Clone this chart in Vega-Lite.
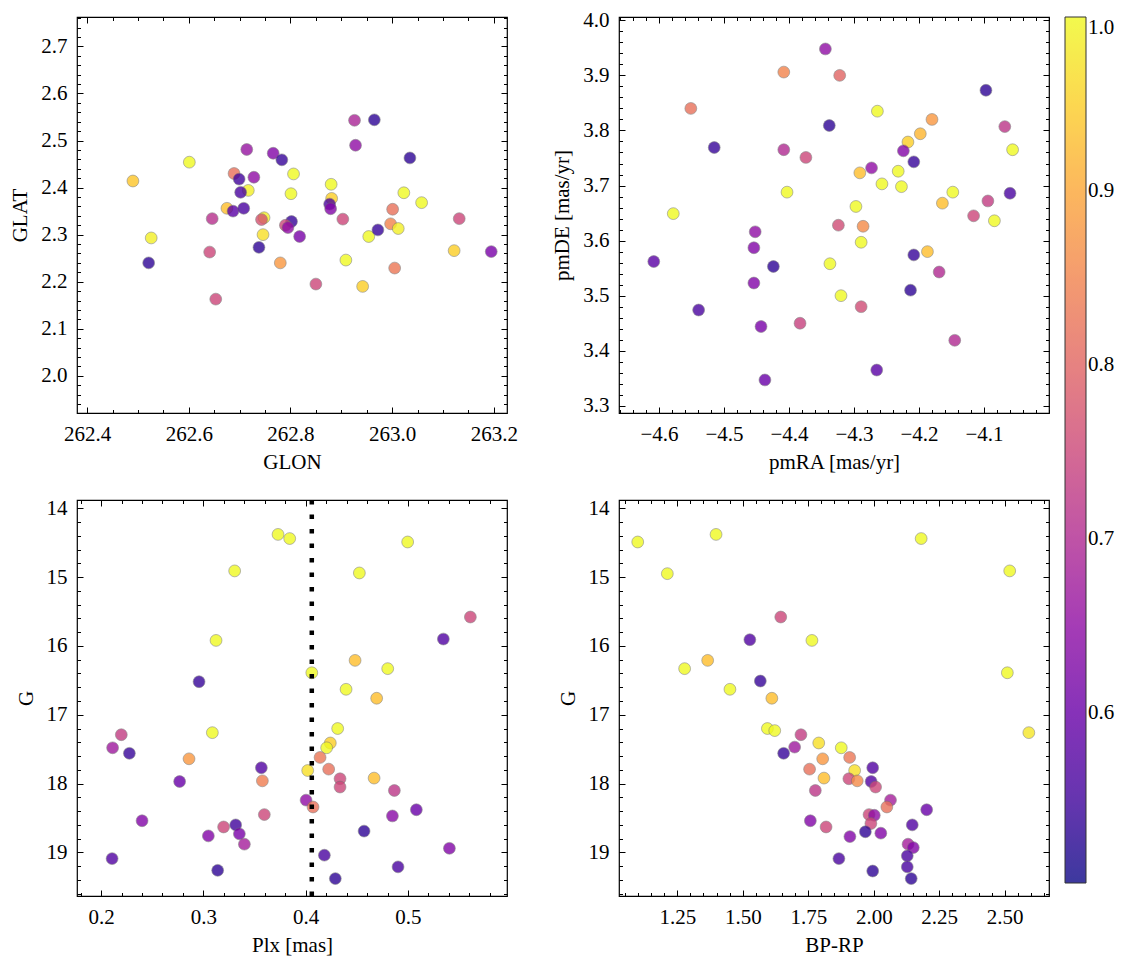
{
"$schema": "https://vega.github.io/schema/vega-lite/v6.json",
"background": "white",
"padding": {"left": 9, "top": 8, "right": 5, "bottom": 5},
"bounds": "flush",
"columns": 2,
"spacing": {"row": 87, "column": 112},
"datasets": {
"pos": [
{"GLON":262.490,"GLAT":2.414,"p":0.94},{"GLON":262.601,"GLAT":2.454,"p":1.0},{"GLON":262.526,"GLAT":2.293,"p":0.99},{"GLON":262.521,"GLAT":2.240,"p":0.53},
{"GLON":262.714,"GLAT":2.481,"p":0.66},{"GLON":262.689,"GLAT":2.430,"p":0.82},{"GLON":262.699,"GLAT":2.418,"p":0.55},{"GLON":262.728,"GLAT":2.422,"p":0.65},
{"GLON":262.717,"GLAT":2.394,"p":0.99},{"GLON":262.702,"GLAT":2.390,"p":0.56},{"GLON":262.675,"GLAT":2.356,"p":0.93},{"GLON":262.687,"GLAT":2.350,"p":0.58},
{"GLON":262.708,"GLAT":2.356,"p":0.56},{"GLON":262.646,"GLAT":2.334,"p":0.71},{"GLON":262.748,"GLAT":2.336,"p":0.99},{"GLON":262.743,"GLAT":2.332,"p":0.77},
{"GLON":262.746,"GLAT":2.300,"p":0.97},{"GLON":262.641,"GLAT":2.263,"p":0.75},{"GLON":262.738,"GLAT":2.273,"p":0.53},{"GLON":262.780,"GLAT":2.240,"p":0.88},
{"GLON":262.653,"GLAT":2.163,"p":0.75},{"GLON":262.766,"GLAT":2.473,"p":0.63},{"GLON":262.783,"GLAT":2.459,"p":0.54},{"GLON":262.806,"GLAT":2.429,"p":1.0},
{"GLON":262.801,"GLAT":2.387,"p":1.0},{"GLON":262.802,"GLAT":2.328,"p":0.54},{"GLON":262.790,"GLAT":2.320,"p":0.75},{"GLON":262.795,"GLAT":2.315,"p":0.65},
{"GLON":262.818,"GLAT":2.296,"p":0.62},{"GLON":262.880,"GLAT":2.407,"p":1.0},{"GLON":262.881,"GLAT":2.377,"p":0.95},{"GLON":262.877,"GLAT":2.365,"p":0.56},
{"GLON":262.879,"GLAT":2.355,"p":0.63},{"GLON":262.926,"GLAT":2.543,"p":0.69},{"GLON":262.965,"GLAT":2.544,"p":0.53},{"GLON":262.928,"GLAT":2.490,"p":0.65},
{"GLON":263.035,"GLAT":2.463,"p":0.53},{"GLON":262.903,"GLAT":2.333,"p":0.75},{"GLON":262.909,"GLAT":2.246,"p":1.0},{"GLON":262.850,"GLAT":2.195,"p":0.75},
{"GLON":262.942,"GLAT":2.190,"p":0.95},{"GLON":262.954,"GLAT":2.296,"p":1.0},{"GLON":262.972,"GLAT":2.310,"p":0.54},{"GLON":263.001,"GLAT":2.354,"p":0.82},
{"GLON":262.997,"GLAT":2.323,"p":0.85},{"GLON":263.012,"GLAT":2.313,"p":0.99},{"GLON":263.023,"GLAT":2.389,"p":1.0},{"GLON":263.058,"GLAT":2.368,"p":1.0},
{"GLON":263.005,"GLAT":2.229,"p":0.83},{"GLON":263.132,"GLAT":2.334,"p":0.75},{"GLON":263.122,"GLAT":2.266,"p":0.95},{"GLON":263.195,"GLAT":2.264,"p":0.62}
],
"pm": [
{"pmRA":-4.408,"pmDE":3.906,"p":0.85},{"pmRA":-4.551,"pmDE":3.840,"p":0.82},{"pmRA":-4.515,"pmDE":3.769,"p":0.54},{"pmRA":-4.408,"pmDE":3.765,"p":0.70},
{"pmRA":-4.374,"pmDE":3.751,"p":0.75},{"pmRA":-4.403,"pmDE":3.688,"p":1.0},{"pmRA":-4.578,"pmDE":3.649,"p":1.0},{"pmRA":-4.452,"pmDE":3.616,"p":0.65},
{"pmRA":-4.454,"pmDE":3.587,"p":0.63},{"pmRA":-4.608,"pmDE":3.562,"p":0.58},{"pmRA":-4.424,"pmDE":3.553,"p":0.53},{"pmRA":-4.454,"pmDE":3.523,"p":0.63},
{"pmRA":-4.539,"pmDE":3.474,"p":0.56},{"pmRA":-4.443,"pmDE":3.444,"p":0.62},{"pmRA":-4.383,"pmDE":3.450,"p":0.74},{"pmRA":-4.437,"pmDE":3.347,"p":0.60},
{"pmRA":-4.344,"pmDE":3.948,"p":0.65},{"pmRA":-4.322,"pmDE":3.900,"p":0.80},{"pmRA":-4.338,"pmDE":3.809,"p":0.53},{"pmRA":-4.264,"pmDE":3.835,"p":1.0},
{"pmRA":-4.097,"pmDE":3.873,"p":0.53},{"pmRA":-4.180,"pmDE":3.820,"p":0.88},{"pmRA":-4.198,"pmDE":3.794,"p":0.92},{"pmRA":-4.217,"pmDE":3.779,"p":0.95},
{"pmRA":-4.224,"pmDE":3.763,"p":0.63},{"pmRA":-4.208,"pmDE":3.743,"p":0.54},{"pmRA":-4.068,"pmDE":3.807,"p":0.72},{"pmRA":-4.056,"pmDE":3.765,"p":1.0},
{"pmRA":-4.273,"pmDE":3.732,"p":0.65},{"pmRA":-4.291,"pmDE":3.723,"p":0.93},{"pmRA":-4.232,"pmDE":3.726,"p":1.0},{"pmRA":-4.257,"pmDE":3.703,"p":1.0},
{"pmRA":-4.227,"pmDE":3.698,"p":1.0},{"pmRA":-4.148,"pmDE":3.688,"p":1.0},{"pmRA":-4.164,"pmDE":3.668,"p":0.93},{"pmRA":-4.060,"pmDE":3.686,"p":0.56},
{"pmRA":-4.094,"pmDE":3.672,"p":0.73},{"pmRA":-4.116,"pmDE":3.645,"p":0.75},{"pmRA":-4.084,"pmDE":3.636,"p":1.0},{"pmRA":-4.297,"pmDE":3.662,"p":1.0},
{"pmRA":-4.324,"pmDE":3.628,"p":0.76},{"pmRA":-4.286,"pmDE":3.626,"p":0.86},{"pmRA":-4.289,"pmDE":3.597,"p":1.0},{"pmRA":-4.208,"pmDE":3.574,"p":0.54},
{"pmRA":-4.187,"pmDE":3.580,"p":0.93},{"pmRA":-4.337,"pmDE":3.558,"p":1.0},{"pmRA":-4.169,"pmDE":3.543,"p":0.70},{"pmRA":-4.213,"pmDE":3.510,"p":0.53},
{"pmRA":-4.320,"pmDE":3.500,"p":1.0},{"pmRA":-4.289,"pmDE":3.480,"p":0.76},{"pmRA":-4.145,"pmDE":3.419,"p":0.70},{"pmRA":-4.265,"pmDE":3.365,"p":0.58}
],
"plx": [
{"Plx":0.3730,"G":14.38,"p":1.0},{"Plx":0.3306,"G":14.91,"p":1.0},{"Plx":0.3124,"G":15.92,"p":1.0},{"Plx":0.2958,"G":16.52,"p":0.54},
{"Plx":0.3088,"G":17.26,"p":1.0},{"Plx":0.2198,"G":17.29,"p":0.73},{"Plx":0.2113,"G":17.48,"p":0.67},{"Plx":0.2277,"G":17.56,"p":0.54},
{"Plx":0.2860,"G":17.64,"p":0.88},{"Plx":0.2768,"G":17.97,"p":0.60},{"Plx":0.3567,"G":17.77,"p":0.57},{"Plx":0.3577,"G":17.96,"p":0.84},
{"Plx":0.2401,"G":18.54,"p":0.63},{"Plx":0.3596,"G":18.45,"p":0.75},{"Plx":0.3198,"G":18.63,"p":0.75},{"Plx":0.3316,"G":18.60,"p":0.55},
{"Plx":0.3049,"G":18.76,"p":0.63},{"Plx":0.3352,"G":18.73,"p":0.62},{"Plx":0.3401,"G":18.88,"p":0.68},{"Plx":0.2108,"G":19.09,"p":0.57},
{"Plx":0.3140,"G":19.26,"p":0.53},{"Plx":0.3844,"G":14.44,"p":1.0},{"Plx":0.4997,"G":14.49,"p":1.0},{"Plx":0.4525,"G":14.94,"p":1.0},
{"Plx":0.5610,"G":15.58,"p":0.75},{"Plx":0.5346,"G":15.90,"p":0.57},{"Plx":0.4483,"G":16.21,"p":0.93},{"Plx":0.4802,"G":16.33,"p":1.0},
{"Plx":0.4060,"G":16.39,"p":1.0},{"Plx":0.4395,"G":16.63,"p":1.0},{"Plx":0.4694,"G":16.76,"p":0.93},{"Plx":0.4313,"G":17.20,"p":1.0},
{"Plx":0.4241,"G":17.41,"p":0.95},{"Plx":0.4205,"G":17.48,"p":1.0},{"Plx":0.4141,"G":17.62,"p":0.83},{"Plx":0.4225,"G":17.79,"p":0.82},
{"Plx":0.4020,"G":17.81,"p":0.97},{"Plx":0.4336,"G":17.93,"p":0.75},{"Plx":0.4336,"G":18.05,"p":0.75},{"Plx":0.4669,"G":17.92,"p":0.93},
{"Plx":0.4867,"G":18.10,"p":0.72},{"Plx":0.4004,"G":18.24,"p":0.65},{"Plx":0.4072,"G":18.34,"p":0.82},{"Plx":0.5082,"G":18.38,"p":0.60},
{"Plx":0.4848,"G":18.47,"p":0.64},{"Plx":0.4571,"G":18.69,"p":0.53},{"Plx":0.5405,"G":18.94,"p":0.63},{"Plx":0.4183,"G":19.04,"p":0.56},
{"Plx":0.4903,"G":19.21,"p":0.56},{"Plx":0.4290,"G":19.38,"p":0.53}
],
"cmd": [
{"BP_RP":1.099,"G":14.49,"p":1.0},{"BP_RP":1.398,"G":14.38,"p":1.0},{"BP_RP":1.212,"G":14.95,"p":1.0},{"BP_RP":1.645,"G":15.58,"p":0.75},
{"BP_RP":1.527,"G":15.91,"p":0.57},{"BP_RP":1.764,"G":15.92,"p":1.0},{"BP_RP":1.366,"G":16.21,"p":0.93},{"BP_RP":1.278,"G":16.33,"p":1.0},
{"BP_RP":1.567,"G":16.51,"p":0.54},{"BP_RP":1.451,"G":16.63,"p":1.0},{"BP_RP":1.611,"G":16.76,"p":0.93},{"BP_RP":1.594,"G":17.20,"p":1.0},
{"BP_RP":1.622,"G":17.23,"p":1.0},{"BP_RP":1.722,"G":17.29,"p":0.73},{"BP_RP":1.698,"G":17.47,"p":0.67},{"BP_RP":1.656,"G":17.56,"p":0.54},
{"BP_RP":1.790,"G":17.41,"p":0.97},{"BP_RP":1.755,"G":17.79,"p":0.82},{"BP_RP":1.777,"G":18.10,"p":0.72},{"BP_RP":1.758,"G":18.54,"p":0.63},
{"BP_RP":2.181,"G":14.44,"p":1.0},{"BP_RP":2.519,"G":14.91,"p":1.0},{"BP_RP":2.510,"G":16.39,"p":1.0},{"BP_RP":2.592,"G":17.26,"p":0.98},
{"BP_RP":1.805,"G":17.64,"p":0.88},{"BP_RP":1.876,"G":17.48,"p":1.0},{"BP_RP":1.908,"G":17.62,"p":0.83},{"BP_RP":1.927,"G":17.81,"p":0.97},
{"BP_RP":1.996,"G":17.77,"p":0.57},{"BP_RP":1.810,"G":17.92,"p":0.93},{"BP_RP":1.905,"G":17.93,"p":0.75},{"BP_RP":1.937,"G":17.96,"p":0.86},
{"BP_RP":1.990,"G":17.97,"p":0.57},{"BP_RP":2.007,"G":18.05,"p":0.75},{"BP_RP":2.064,"G":18.24,"p":0.68},{"BP_RP":2.050,"G":18.34,"p":0.82},
{"BP_RP":2.202,"G":18.38,"p":0.60},{"BP_RP":1.982,"G":18.45,"p":0.75},{"BP_RP":2.002,"G":18.46,"p":0.65},{"BP_RP":1.989,"G":18.58,"p":0.75},
{"BP_RP":1.818,"G":18.63,"p":0.75},{"BP_RP":2.147,"G":18.60,"p":0.57},{"BP_RP":1.968,"G":18.70,"p":0.53},{"BP_RP":2.027,"G":18.72,"p":0.63},
{"BP_RP":1.909,"G":18.77,"p":0.63},{"BP_RP":2.131,"G":18.88,"p":0.68},{"BP_RP":2.151,"G":18.93,"p":0.63},{"BP_RP":2.128,"G":19.05,"p":0.56},
{"BP_RP":1.867,"G":19.09,"p":0.56},{"BP_RP":2.128,"G":19.21,"p":0.56},{"BP_RP":1.996,"G":19.27,"p":0.53},{"BP_RP":2.143,"G":19.38,"p":0.53}
],
"cut": [{"Plx_cut":0.406}]
},
"concat": [
{
"width":430,"height":396,"data":{"name":"pos"},
"layer":[
{"mark":{"type":"circle","size":140,"opacity":0.8,"stroke":"#6e6e6e","strokeWidth":0.6},
"encoding":{
"x":{"field":"GLON","type":"quantitative","scale":{"domain":[262.38,263.226],"nice":false,"zero":false},"axis":{"orient":"bottom","values":[262.4,262.6,262.8,263.0,263.2],"format":".1f","ticks":false,"title":"GLON"}},
"y":{"field":"GLAT","type":"quantitative","scale":{"domain":[1.921,2.7625],"nice":false,"zero":false},"axis":{"orient":"left","values":[2.0,2.1,2.2,2.3,2.4,2.5,2.6,2.7],"format":".1f","ticks":false,"title":"GLAT"}},
"color":{"field":"p","type":"quantitative","scale":{"scheme":"plasma","domain":[0.502,1.0]},"legend":{"title":null,"values":[0.6,0.7,0.8,0.9,1.0],"format":".1f","gradientLength":866,"encode":{"gradient":{"update":{"opacity":{"value":0.8}}},"labels":{"enter":{"baseline":{"value":"middle"}},"update":{"baseline":{"signal":"'middle'"}}}}}}}},
{"mark":{"type":"point","opacity":0},"encoding":{
"x":{"field":"GLON","type":"quantitative","scale":{"domain":[262.38,263.226],"nice":false,"zero":false},"axis":{"orient":"bottom","values":[262.4,262.6,262.8,263.0,263.2],"labels":false,"title":null,"tickSize":-6}},
"y":{"field":"GLAT","type":"quantitative","scale":{"domain":[1.921,2.7625],"nice":false,"zero":false},"axis":{"orient":"left","values":[2.0,2.1,2.2,2.3,2.4,2.5,2.6,2.7],"labels":false,"title":null,"tickSize":-6}}}},
{"mark":{"type":"point","opacity":0},"encoding":{
"x":{"field":"GLON","type":"quantitative","scale":{"domain":[262.38,263.226],"nice":false,"zero":false},"axis":{"orient":"bottom","tickCount":17,"labels":false,"title":null,"tickSize":-3.5}},
"y":{"field":"GLAT","type":"quantitative","scale":{"domain":[1.921,2.7625],"nice":false,"zero":false},"axis":{"orient":"left","tickCount":42,"labels":false,"title":null,"tickSize":-3.5}}}},
{"mark":{"type":"point","opacity":0},"encoding":{
"x":{"field":"GLON","type":"quantitative","scale":{"domain":[262.38,263.226],"nice":false,"zero":false},"axis":{"orient":"top","values":[262.4,262.6,262.8,263.0,263.2],"labels":false,"title":null,"tickSize":-6}},
"y":{"field":"GLAT","type":"quantitative","scale":{"domain":[1.921,2.7625],"nice":false,"zero":false},"axis":{"orient":"right","values":[2.0,2.1,2.2,2.3,2.4,2.5,2.6,2.7],"labels":false,"title":null,"tickSize":-6}}}},
{"mark":{"type":"point","opacity":0},"encoding":{
"x":{"field":"GLON","type":"quantitative","scale":{"domain":[262.38,263.226],"nice":false,"zero":false},"axis":{"orient":"top","tickCount":17,"labels":false,"title":null,"tickSize":-3.5}},
"y":{"field":"GLAT","type":"quantitative","scale":{"domain":[1.921,2.7625],"nice":false,"zero":false},"axis":{"orient":"right","tickCount":42,"labels":false,"title":null,"tickSize":-3.5}}}}
],
"resolve":{"axis":{"x":"independent","y":"independent"}}
},
{
"width":430,"height":396,"data":{"name":"pm"},
"layer":[
{"mark":{"type":"circle","size":140,"opacity":0.8,"stroke":"#6e6e6e","strokeWidth":0.6},
"encoding":{
"x":{"field":"pmRA","type":"quantitative","scale":{"domain":[-4.6615,-4.0],"nice":false,"zero":false},"axis":{"orient":"bottom","values":[-4.6,-4.5,-4.4,-4.3,-4.2,-4.1],"format":".1f","ticks":false,"title":"pmRA [mas/yr]"}},
"y":{"field":"pmDE","type":"quantitative","scale":{"domain":[3.287,4.006],"nice":false,"zero":false},"axis":{"orient":"left","values":[3.3,3.4,3.5,3.6,3.7,3.8,3.9,4.0],"format":".1f","ticks":false,"title":"pmDE [mas/yr]"}},
"color":{"field":"p","type":"quantitative","scale":{"scheme":"plasma","domain":[0.502,1.0]},"legend":{"title":null,"values":[0.6,0.7,0.8,0.9,1.0],"format":".1f","gradientLength":866,"encode":{"gradient":{"update":{"opacity":{"value":0.8}}},"labels":{"enter":{"baseline":{"value":"middle"}},"update":{"baseline":{"signal":"'middle'"}}}}}}}},
{"mark":{"type":"point","opacity":0},"encoding":{
"x":{"field":"pmRA","type":"quantitative","scale":{"domain":[-4.6615,-4.0],"nice":false,"zero":false},"axis":{"orient":"bottom","values":[-4.6,-4.5,-4.4,-4.3,-4.2,-4.1],"labels":false,"title":null,"tickSize":-6}},
"y":{"field":"pmDE","type":"quantitative","scale":{"domain":[3.287,4.006],"nice":false,"zero":false},"axis":{"orient":"left","values":[3.3,3.4,3.5,3.6,3.7,3.8,3.9,4.0],"labels":false,"title":null,"tickSize":-6}}}},
{"mark":{"type":"point","opacity":0},"encoding":{
"x":{"field":"pmRA","type":"quantitative","scale":{"domain":[-4.6615,-4.0],"nice":false,"zero":false},"axis":{"orient":"bottom","tickCount":33,"labels":false,"title":null,"tickSize":-3.5}},
"y":{"field":"pmDE","type":"quantitative","scale":{"domain":[3.287,4.006],"nice":false,"zero":false},"axis":{"orient":"left","tickCount":36,"labels":false,"title":null,"tickSize":-3.5}}}},
{"mark":{"type":"point","opacity":0},"encoding":{
"x":{"field":"pmRA","type":"quantitative","scale":{"domain":[-4.6615,-4.0],"nice":false,"zero":false},"axis":{"orient":"top","values":[-4.6,-4.5,-4.4,-4.3,-4.2,-4.1],"labels":false,"title":null,"tickSize":-6}},
"y":{"field":"pmDE","type":"quantitative","scale":{"domain":[3.287,4.006],"nice":false,"zero":false},"axis":{"orient":"right","values":[3.3,3.4,3.5,3.6,3.7,3.8,3.9,4.0],"labels":false,"title":null,"tickSize":-6}}}},
{"mark":{"type":"point","opacity":0},"encoding":{
"x":{"field":"pmRA","type":"quantitative","scale":{"domain":[-4.6615,-4.0],"nice":false,"zero":false},"axis":{"orient":"top","tickCount":33,"labels":false,"title":null,"tickSize":-3.5}},
"y":{"field":"pmDE","type":"quantitative","scale":{"domain":[3.287,4.006],"nice":false,"zero":false},"axis":{"orient":"right","tickCount":36,"labels":false,"title":null,"tickSize":-3.5}}}}
],
"resolve":{"axis":{"x":"independent","y":"independent"}}
},
{
"width":430,"height":396,"data":{"name":"plx"},
"layer":[
{"mark":{"type":"circle","size":140,"opacity":0.8,"stroke":"#6e6e6e","strokeWidth":0.6},
"encoding":{
"x":{"field":"Plx","type":"quantitative","scale":{"domain":[0.1765,0.5968],"nice":false,"zero":false},"axis":{"orient":"bottom","values":[0.2,0.3,0.4,0.5],"format":".1f","ticks":false,"title":"Plx [mas]"}},
"y":{"field":"G","type":"quantitative","scale":{"domain":[13.88,19.633],"nice":false,"zero":false,"reverse":true},"axis":{"orient":"left","values":[14,15,16,17,18,19],"format":"d","ticks":false,"title":"G"}},
"color":{"field":"p","type":"quantitative","scale":{"scheme":"plasma","domain":[0.502,1.0]},"legend":{"title":null,"values":[0.6,0.7,0.8,0.9,1.0],"format":".1f","gradientLength":866,"encode":{"gradient":{"update":{"opacity":{"value":0.8}}},"labels":{"enter":{"baseline":{"value":"middle"}},"update":{"baseline":{"signal":"'middle'"}}}}}}}},
{"data":{"name":"cut"},"mark":{"type":"rule","color":"black","strokeWidth":4.5,"strokeDash":[4.5,10],"strokeCap":"butt"},
"encoding":{"x":{"field":"Plx_cut","type":"quantitative","scale":{"domain":[0.1765,0.5968],"nice":false,"zero":false},"axis":null}}},
{"mark":{"type":"point","opacity":0},"encoding":{
"x":{"field":"Plx","type":"quantitative","scale":{"domain":[0.1765,0.5968],"nice":false,"zero":false},"axis":{"orient":"bottom","values":[0.2,0.3,0.4,0.5],"labels":false,"title":null,"tickSize":-6}},
"y":{"field":"G","type":"quantitative","scale":{"domain":[13.88,19.633],"nice":false,"zero":false,"reverse":true},"axis":{"orient":"left","values":[14,15,16,17,18,19],"labels":false,"title":null,"tickSize":-6}}}},
{"mark":{"type":"point","opacity":0},"encoding":{
"x":{"field":"Plx","type":"quantitative","scale":{"domain":[0.1765,0.5968],"nice":false,"zero":false},"axis":{"orient":"bottom","tickCount":21,"labels":false,"title":null,"tickSize":-3.5}},
"y":{"field":"G","type":"quantitative","scale":{"domain":[13.88,19.633],"nice":false,"zero":false,"reverse":true},"axis":{"orient":"left","tickCount":29,"labels":false,"title":null,"tickSize":-3.5}}}},
{"mark":{"type":"point","opacity":0},"encoding":{
"x":{"field":"Plx","type":"quantitative","scale":{"domain":[0.1765,0.5968],"nice":false,"zero":false},"axis":{"orient":"top","values":[0.2,0.3,0.4,0.5],"labels":false,"title":null,"tickSize":-6}},
"y":{"field":"G","type":"quantitative","scale":{"domain":[13.88,19.633],"nice":false,"zero":false,"reverse":true},"axis":{"orient":"right","values":[14,15,16,17,18,19],"labels":false,"title":null,"tickSize":-6}}}},
{"mark":{"type":"point","opacity":0},"encoding":{
"x":{"field":"Plx","type":"quantitative","scale":{"domain":[0.1765,0.5968],"nice":false,"zero":false},"axis":{"orient":"top","tickCount":21,"labels":false,"title":null,"tickSize":-3.5}},
"y":{"field":"G","type":"quantitative","scale":{"domain":[13.88,19.633],"nice":false,"zero":false,"reverse":true},"axis":{"orient":"right","tickCount":29,"labels":false,"title":null,"tickSize":-3.5}}}}
],
"resolve":{"axis":{"x":"independent","y":"independent"}}
},
{
"width":430,"height":396,"data":{"name":"cmd"},
"layer":[
{"mark":{"type":"circle","size":140,"opacity":0.8,"stroke":"#6e6e6e","strokeWidth":0.6},
"encoding":{
"x":{"field":"BP_RP","type":"quantitative","scale":{"domain":[1.0275,2.669],"nice":false,"zero":false},"axis":{"orient":"bottom","values":[1.25,1.5,1.75,2.0,2.25,2.5],"format":".2f","ticks":false,"title":"BP-RP"}},
"y":{"field":"G","type":"quantitative","scale":{"domain":[13.88,19.633],"nice":false,"zero":false,"reverse":true},"axis":{"orient":"left","values":[14,15,16,17,18,19],"format":"d","ticks":false,"title":"G"}},
"color":{"field":"p","type":"quantitative","scale":{"scheme":"plasma","domain":[0.502,1.0]},"legend":{"title":null,"values":[0.6,0.7,0.8,0.9,1.0],"format":".1f","gradientLength":866,"encode":{"gradient":{"update":{"opacity":{"value":0.8}}},"labels":{"enter":{"baseline":{"value":"middle"}},"update":{"baseline":{"signal":"'middle'"}}}}}}}},
{"mark":{"type":"point","opacity":0},"encoding":{
"x":{"field":"BP_RP","type":"quantitative","scale":{"domain":[1.0275,2.669],"nice":false,"zero":false},"axis":{"orient":"bottom","values":[1.25,1.5,1.75,2.0,2.25,2.5],"labels":false,"title":null,"tickSize":-6}},
"y":{"field":"G","type":"quantitative","scale":{"domain":[13.88,19.633],"nice":false,"zero":false,"reverse":true},"axis":{"orient":"left","values":[14,15,16,17,18,19],"labels":false,"title":null,"tickSize":-6}}}},
{"mark":{"type":"point","opacity":0},"encoding":{
"x":{"field":"BP_RP","type":"quantitative","scale":{"domain":[1.0275,2.669],"nice":false,"zero":false},"axis":{"orient":"bottom","tickCount":33,"labels":false,"title":null,"tickSize":-3.5}},
"y":{"field":"G","type":"quantitative","scale":{"domain":[13.88,19.633],"nice":false,"zero":false,"reverse":true},"axis":{"orient":"left","tickCount":29,"labels":false,"title":null,"tickSize":-3.5}}}},
{"mark":{"type":"point","opacity":0},"encoding":{
"x":{"field":"BP_RP","type":"quantitative","scale":{"domain":[1.0275,2.669],"nice":false,"zero":false},"axis":{"orient":"top","values":[1.25,1.5,1.75,2.0,2.25,2.5],"labels":false,"title":null,"tickSize":-6}},
"y":{"field":"G","type":"quantitative","scale":{"domain":[13.88,19.633],"nice":false,"zero":false,"reverse":true},"axis":{"orient":"right","values":[14,15,16,17,18,19],"labels":false,"title":null,"tickSize":-6}}}},
{"mark":{"type":"point","opacity":0},"encoding":{
"x":{"field":"BP_RP","type":"quantitative","scale":{"domain":[1.0275,2.669],"nice":false,"zero":false},"axis":{"orient":"top","tickCount":33,"labels":false,"title":null,"tickSize":-3.5}},
"y":{"field":"G","type":"quantitative","scale":{"domain":[13.88,19.633],"nice":false,"zero":false,"reverse":true},"axis":{"orient":"right","tickCount":29,"labels":false,"title":null,"tickSize":-3.5}}}}
],
"resolve":{"axis":{"x":"independent","y":"independent"}}
}
],
"config": {
"view": {"stroke": "black", "strokeWidth": 1.2},
"font": "Liberation Serif, DejaVu Serif, serif",
"axis": {"grid": false, "domain": false, "labelFont": "Liberation Serif, DejaVu Serif, serif", "labelFontSize": 21, "labelColor": "black", "labelFlush": false, "labelOverlap": false, "titleFont": "Liberation Serif, DejaVu Serif, serif", "titleFontSize": 21, "titleFontWeight": "normal", "titleColor": "black", "tickColor": "black", "tickWidth": 1, "labelPadding": 10, "titlePadding": 10},
"axisX": {"titlePadding": 7},
"legend": {"gradientThickness": 21, "gradientStrokeColor": "black", "gradientStrokeWidth": 1, "labelFont": "Liberation Serif, DejaVu Serif, serif", "labelFontSize": 21, "labelColor": "black", "labelOffset": 9, "offset": 14, "padding": 0, "labelOverlap": false}
}
}
